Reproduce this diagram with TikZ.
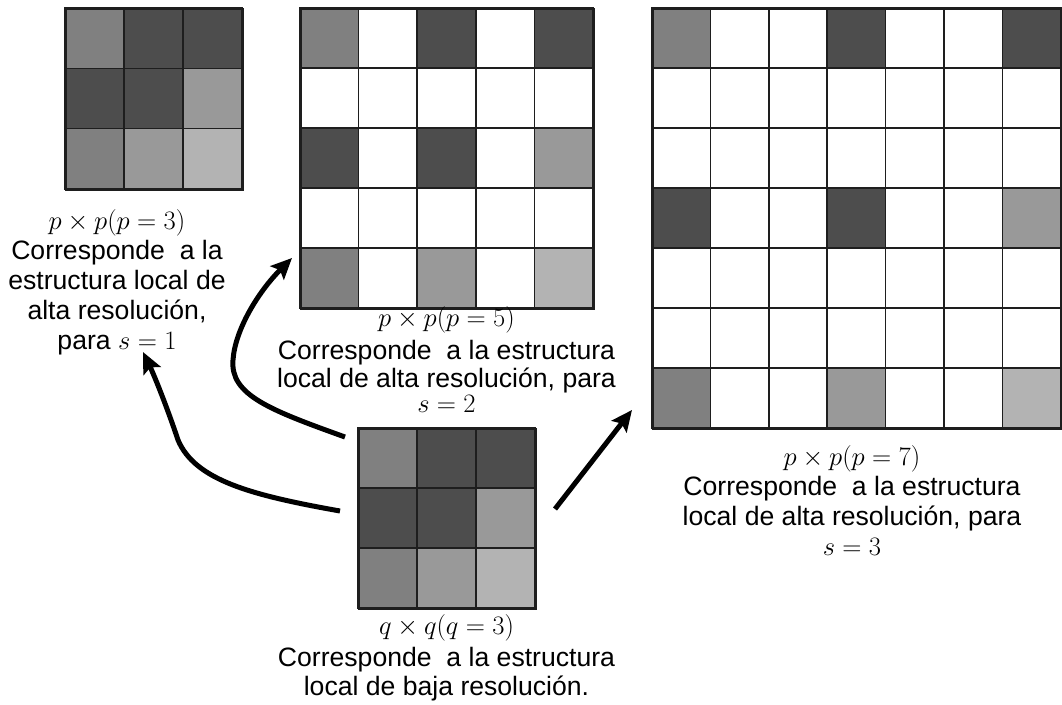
\documentclass[tikz,border=0pt]{standalone}
\usepackage{fix-cm}
\usepackage[no-math]{fontspec}
\setmainfont{Liberation Sans}
\usetikzlibrary{arrows.meta,calc}

\definecolor{gMid}{HTML}{808080}
\definecolor{gDark}{HTML}{4D4D4D}
\definecolor{gLight}{HTML}{999999}
\definecolor{gPale}{HTML}{B3B3B3}
\definecolor{gridline}{HTML}{1E1E1E}

% cells of a pixel patch: x0, y0, cell width, cell height, rows of colours
\newcommand\pixcells[5]{%
  \foreach \rowcols [count=\ri from 0] in {#5}{%
    \foreach \cc [count=\ci from 0] in \rowcols{%
      \path[cellbox, fill=\cc] ({#1+\ci*#3},{#2+\ri*#4}) rectangle ++(#3,#4);
    }%
  }%
}

\tikzset{
  cellbox/.style={draw=gridline, line width=1.6pt},
  frame/.style={draw=gridline, line width=2pt, inner sep=0pt, anchor=north west},
  lbl/.style={anchor=north, align=center, inner sep=0pt},
  conn/.style={line width=5pt, -{Stealth[length=21pt,width=19pt,inset=4pt]}},
}

\begin{document}
\begin{tikzpicture}[x=1pt, y=-1pt]
  \useasboundingbox (0,0) rectangle (1062,704);
  \fill[white] (0,0) rectangle (1062,704);

  % p x p, p = 3
  \pixcells{65}{8}{59}{60.33}{{gMid,gDark,gDark},{gDark,gDark,gLight},{gMid,gLight,gPale}}
  \node[frame, minimum width=177pt, minimum height=181pt] (A) at (65,8) {};

  % p x p, p = 5
  \pixcells{300}{8}{58.6}{60}{%
    {gMid,white,gDark,white,gDark},
    {white,white,white,white,white},
    {gDark,white,gDark,white,gLight},
    {white,white,white,white,white},
    {gMid,white,gLight,white,gPale}}
  \node[frame, minimum width=293pt, minimum height=300pt] (B) at (300,8) {};

  % p x p, p = 7
  \pixcells{652}{8}{58.4}{60}{%
    {gMid,white,white,gDark,white,white,gDark},
    {white,white,white,white,white,white,white},
    {white,white,white,white,white,white,white},
    {gDark,white,white,gDark,white,white,gLight},
    {white,white,white,white,white,white,white},
    {white,white,white,white,white,white,white},
    {gMid,white,white,gLight,white,white,gPale}}
  \node[frame, minimum width=408.8pt, minimum height=420pt] (C) at (652,8) {};

  % q x q, q = 3
  \pixcells{358}{428}{59}{60}{{gMid,gDark,gDark},{gDark,gDark,gLight},{gMid,gLight,gPale}}
  \node[frame, minimum width=177pt, minimum height=180pt] (D) at (358,428) {};

  % captions
  \node[lbl, font=\fontsize{26.6}{30}\selectfont] (LA) at (117,209)
    {$p\times p(p=3)$\\Corresponde\ \ a la\\estructura local de\\alta resolución,\\para $s=1$};
  \node[lbl, font=\fontsize{26.6}{28}\selectfont] (LB) at (446.5,306)
    {$p\times p(p=5)$\\[5pt]Corresponde\ \ a la estructura\\local de alta resolución, para\\[-3pt]$s=2$};
  \node[lbl, font=\fontsize{26.6}{30}\selectfont] (LC) at (852,445.5)
    {$p\times p(p=7)$\\Corresponde\ \ a la estructura\\local de alta resolución, para\\$s=3$};
  \node[lbl, font=\fontsize{26.6}{28.5}\selectfont] (LD) at (446.5,614)
    {$q\times q(q=3)$\\[4pt]Corresponde\ \ a la estructura\\local de baja resolución.};

  % arrow ends
  \coordinate (s1) at ($(D.west)+(-18,-8)$);
  \coordinate (s2) at ($(D.north west)+(-13,9)$);
  \coordinate (s3) at ($(D.east)+(18,-10)$);
  \coordinate (t1) at (143,352);
  \coordinate (t2) at (292,258);
  \coordinate (t3) at (632,410);

  % arrows from the low resolution patch
  \draw[conn] (s1) .. controls (250,495) and (195,480) .. (178,440)
                   .. controls (168,410) and (155,377) .. (t1);
  \draw[conn] (s2) .. controls (270,410) and (230,395) .. (233,360)
                   .. controls (235,330) and (258,292) .. (t2);
  \draw[conn] (s3) -- (t3);
\end{tikzpicture}
\end{document}
